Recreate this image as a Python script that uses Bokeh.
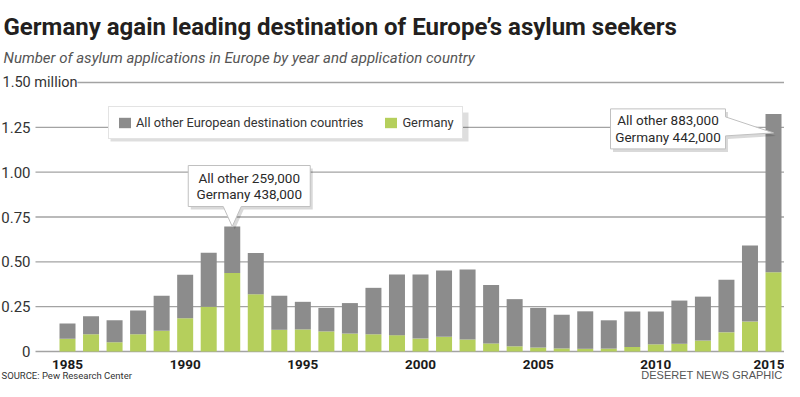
from bokeh.plotting import figure
from bokeh.models import (ColumnDataSource, FixedTicker, Label, Legend, LegendItem, Range1d)
from bokeh.embed import file_html
from bokeh.resources import INLINE

# ---------------- data (thousands of applications) ----------------
years = [1985, 1986, 1987, 1988, 1989, 1990, 1991, 1992, 1993, 1994, 1995,
         1996, 1997, 1998, 1999, 2000, 2001, 2002, 2003, 2004, 2005,
         2006, 2007, 2008, 2009, 2010, 2011, 2012, 2013, 2014, 2015]
germany = [71, 96, 52, 96, 116, 186, 250, 438, 319, 121, 123,
           112, 100, 96, 91, 72, 82, 67, 45, 29, 22,
           17, 15, 16, 25, 40, 43, 61, 107, 167, 442]
other = [85, 101, 122, 132, 195, 242, 301, 259, 230, 190, 154,
         131, 170, 259, 338, 357, 369, 390, 326, 263, 221,
         188, 209, 158, 198, 183, 241, 245, 293, 424, 883]
series_names = ["All other European destination countries", "Germany"]
y_ticks = [0, 250, 500, 750, 1000, 1250, 1500]
y_tick_labels = ["0", "0.25", "0.50", "0.75", "1.00", "1.25", ""]
top_tick_label = "1.50 million"
x_ticks = [1985, 1990, 1995, 2000, 2005, 2010, 2015]
callout_years = [1992, 2015]
callout_texts = ["All other 259,000\nGermany 438,000",
                 "All other 883,000\nGermany 442,000"]

title_text = "Germany again leading destination of Europe\u2019s asylum seekers"
subtitle_text = "Number of asylum applications in Europe by year and application country"
source_text = "SOURCE: Pew Research Center"
credit_text = "DESERET NEWS GRAPHIC"

# ---------------- style / layout ----------------
GREEN = "#b5cf5c"
GRAY = "#8c8c8c"
GRID = "#a3a3a3"
FONT = "Roboto"
REG = "Liberation Sans"

W, H = 784, 381            # canvas == frame
PLOT_LEFT = 35             # px where the bar area starts
ZERO_Y = 351               # px (from top) of the zero line
TOP_Y = 82                 # px (from top) of the 1.50 line
X0, X1 = 1983.64, 2015.467 # year span of bar area
YMAX = 1500

SX = (W - PLOT_LEFT) / (X1 - X0)
SY = (ZERO_Y - TOP_Y) / YMAX
XS = X0 - PLOT_LEFT / SX
YS = -(H - ZERO_Y) / SY
YE = YMAX + TOP_Y / SY


def px_x(px):
    return XS + px / SX


def px_y(px):
    return YE - px / SY


p = figure(frame_width=W, frame_height=H,
           min_border=0, min_border_left=0, min_border_right=0,
           min_border_top=0, min_border_bottom=0,
           x_range=Range1d(XS, X1), y_range=Range1d(YS, YE),
           output_backend="svg", toolbar_location=None,
           outline_line_color=None, background_fill_color="white")

# grid lines (from tick values) starting at the bar area
p.xgrid.grid_line_color = None
p.ygrid.grid_line_color = None
p.segment(x0=[X0] * len(y_ticks), y0=y_ticks, x1=[X1] * len(y_ticks), y1=y_ticks,
          line_color=GRID, line_width=1.4)

src = ColumnDataSource(dict(year=years, germany=germany, other=other))
rs = p.vbar_stack(["germany", "other"], x="year", width=0.68,
                  color=[GREEN, GRAY], line_color=None, source=src)

# axes placed at fixed data locations
for ax in (p.xaxis, p.yaxis):
    ax.axis_line_color = None
    ax.major_tick_line_color = None
    ax.minor_tick_line_color = None
    ax.major_tick_out = 0
    ax.major_tick_in = 0
    ax.minor_tick_out = 0
    ax.minor_tick_in = 0

p.yaxis.fixed_location = X0
p.yaxis.ticker = FixedTicker(ticks=y_ticks)
p.yaxis.major_label_overrides = {t: l for t, l in zip(y_ticks, y_tick_labels)}
p.yaxis.major_label_standoff = 5
p.yaxis.major_label_text_font = FONT
p.yaxis.major_label_text_font_size = "15px"
p.yaxis.major_label_text_color = "#333333"

p.xaxis.fixed_location = 0
p.xaxis.ticker = FixedTicker(ticks=x_ticks)
p.xaxis.major_label_standoff = 8
p.xaxis.major_label_text_font = FONT
p.xaxis.major_label_text_font_style = "bold"
p.xaxis.major_label_text_font_size = "13.5px"
p.xaxis.major_label_text_color = "#1a1a1a"

# top tick label with unit
p.add_layout(Label(x=2, y=YMAX, x_units="screen", y_units="data",
                   text=top_tick_label, text_baseline="middle", text_align="left",
                   text_font=FONT, text_font_size="14.5px", text_color="#333333",
                   background_fill_color="white"))

# legend (with a soft shadow behind it)
p.quad(left=px_x(110), right=px_x(468), top=px_y(112), bottom=px_y(141),
       fill_color="black", fill_alpha=0.13, line_color=None)
legend = Legend(items=[LegendItem(label=series_names[0], renderers=[rs[1]]),
                       LegendItem(label=series_names[1], renderers=[rs[0]])],
                orientation="horizontal", location=(108, H - 139),
                background_fill_color="white", background_fill_alpha=1,
                border_line_color="#c8c8c8", border_line_width=1,
                label_text_font=FONT, label_text_font_size="12.8px",
                label_text_color="#333333",
                glyph_width=15, glyph_height=13, label_standoff=4,
                spacing=20, padding=8, margin=0)
p.add_layout(legend)

# callouts
shapes = [
    [(-9, 20), (-44, 20), (-44, 61), (78, 61), (78, 20), (9, 20), (0, 0)],
    [(-48, -3), (0, -19), (-48, -22), (-48, -35), (-163, -35), (-163, 5), (-48, 5)],
]
text_offsets = [(17, 40.5), (-105.5, -15)]
for yr, txt, shape, (tx, ty) in zip(callout_years, callout_texts, shapes, text_offsets):
    i = years.index(yr)
    tot = germany[i] + other[i]
    xs = [yr + dx / SX for dx, dy in shape]
    ys = [tot + dy / SY for dx, dy in shape]
    p.patch([x + 2.5 / SX for x in xs], [y - 3 / SY for y in ys],
            fill_color="black", fill_alpha=0.15, line_color=None)
    p.patch(xs, ys, fill_color="white", line_color="#c0c0c0", line_width=1)
    p.add_layout(Label(x=yr, y=tot, x_offset=tx, y_offset=ty, text=txt,
                       text_align="center", text_baseline="middle",
                       text_font=FONT, text_font_size="13.5px",
                       text_color="#2a2a2a", text_line_height=1.05))

# titles and notes
p.add_layout(Label(x=3, y=H - 26, x_units="screen", y_units="screen",
                   text=title_text, text_baseline="alphabetic",
                   text_font=FONT, text_font_style="bold", text_font_size="24px",
                   text_color="#231f20"))
p.add_layout(Label(x=3, y=H - 57, x_units="screen", y_units="screen",
                   text=subtitle_text, text_baseline="alphabetic",
                   text_font=FONT, text_font_style="italic", text_font_size="15px",
                   text_color="#555555"))
p.add_layout(Label(x=1, y=1, x_units="screen", y_units="screen",
                   text=source_text, text_baseline="bottom",
                   text_font=FONT, text_font_size="9.5px", text_color="#333333"))
p.add_layout(Label(x=W - 2, y=1, x_units="screen", y_units="screen",
                   text=credit_text, text_baseline="bottom", text_align="right",
                   text_font=REG, text_font_size="11px", text_color="#555555"))

open("out.html", "w").write(file_html(p, INLINE))
